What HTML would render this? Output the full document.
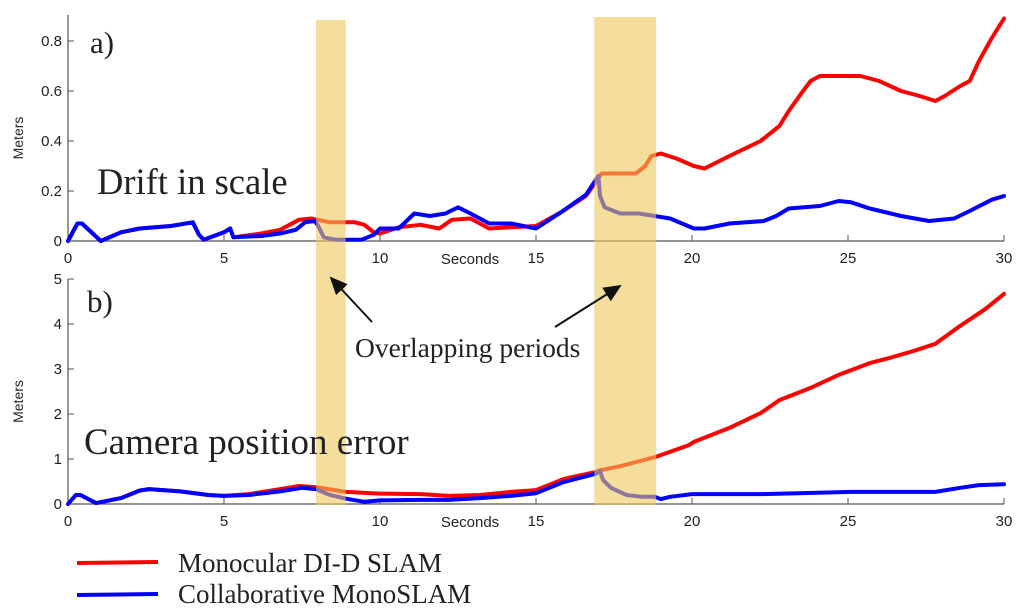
<!DOCTYPE html>
<html><head><meta charset="utf-8"><style>
html,body{margin:0;padding:0;background:#fff;width:1024px;height:613px;overflow:hidden}
svg{display:block}
.tick{font-family:"Liberation Sans",sans-serif;font-size:15px;fill:#222}
.serif{font-family:"Liberation Serif",serif;fill:#222}
</style></head><body>
<svg id="chart" width="1024" height="613" viewBox="0 0 1024 613" xmlns="http://www.w3.org/2000/svg"></svg>
<script>
// ---- data ----
const topRedT=[0,0.3,0.45,1.05,1.7,2.3,3.3,4.0,4.2,4.35,5.0,5.2,5.3,6.2,6.8,7.4,7.8,8.0,8.4,9.2,9.5,9.8,10,10.6,11.3,11.9,12.3,12.9,13.5,14.2,15,15.8,16.6,17.0,17.1,17.7,18.2,18.5,18.7,19.0,19.5,20.06,20.4,21.2,22.2,22.8,23.1,23.5,23.8,24.1,24.7,25.4,26.0,26.7,27.3,27.8,28.1,28.6,28.9,29.2,29.6,30];
const topRedV=[0,0.07,0.07,0,0.035,0.05,0.06,0.075,0.025,0.005,0.035,0.05,0.015,0.03,0.045,0.085,0.09,0.085,0.075,0.075,0.065,0.035,0.03,0.055,0.065,0.05,0.085,0.09,0.05,0.055,0.06,0.115,0.18,0.25,0.27,0.27,0.27,0.30,0.34,0.35,0.33,0.30,0.29,0.34,0.40,0.46,0.52,0.59,0.64,0.66,0.66,0.66,0.64,0.60,0.58,0.56,0.58,0.62,0.64,0.72,0.81,0.89];
const topBlueT=[0,0.3,0.45,1.05,1.7,2.3,3.3,4.0,4.2,4.35,5.0,5.2,5.3,6.2,6.8,7.3,7.6,7.9,8.0,8.2,8.6,9.4,9.8,10,10.6,11.1,11.6,12.1,12.5,12.9,13.5,14.2,15,15.8,16.6,17.0,17.05,17.2,17.7,18.3,18.8,19.3,20.06,20.4,21.2,22.3,22.7,23.1,24.1,24.7,25.1,25.7,26.7,27.6,28.4,28.9,29.6,30];
const topBlueV=[0,0.07,0.07,0,0.035,0.05,0.06,0.075,0.025,0.005,0.035,0.05,0.015,0.02,0.03,0.045,0.075,0.08,0.065,0.015,0.005,0.005,0.025,0.05,0.05,0.11,0.10,0.11,0.135,0.11,0.07,0.07,0.05,0.115,0.185,0.26,0.18,0.135,0.11,0.11,0.10,0.09,0.05,0.05,0.07,0.08,0.10,0.13,0.14,0.16,0.155,0.13,0.10,0.08,0.09,0.12,0.165,0.18];
const botRedT=[0,0.25,0.4,0.9,1.7,2.3,2.6,3.6,4.5,5,5.8,6.8,7.4,8,8.9,10,11.3,12.2,13.2,14.2,15,15.9,16.9,17.05,17.7,18.8,19.9,20.06,21.2,22.2,22.8,23.8,24.7,25.7,26.3,27.1,27.8,28.6,29.4,30];
const botRedV=[0,0.2,0.2,0.02,0.13,0.3,0.33,0.28,0.2,0.18,0.22,0.33,0.4,0.37,0.27,0.23,0.22,0.18,0.2,0.27,0.31,0.56,0.71,0.75,0.84,1.04,1.31,1.38,1.69,2.02,2.31,2.58,2.87,3.13,3.24,3.4,3.56,3.96,4.33,4.67];
const botBlueT=[0,0.25,0.4,0.9,1.7,2.3,2.6,3.6,4.5,5,5.8,6.8,7.5,7.95,8.4,8.9,9.5,10,11.3,12.2,13.2,14.2,15,15.9,16.9,17.05,17.15,17.4,17.9,18.4,18.8,19.0,19.3,20,22.2,23.4,25.1,26.7,27.8,28.6,29.2,30];
const botBlueV=[0,0.2,0.2,0.02,0.13,0.3,0.33,0.28,0.2,0.18,0.2,0.28,0.36,0.33,0.2,0.12,0.05,0.08,0.09,0.09,0.13,0.18,0.24,0.49,0.67,0.73,0.53,0.36,0.2,0.16,0.16,0.11,0.16,0.22,0.22,0.24,0.27,0.27,0.27,0.36,0.42,0.44];
const xTicks=[0,5,10,15,20,25,30];
const topYTicks=[0,0.2,0.4,0.6,0.8];
const topYLabels=["0","0.2","0.4","0.6","0.8"];
const botYTicks=[0,1,2,3,4,5];
const bands=[[7.95,8.9],[16.87,18.85]];

// ---- axes ----
const X0=68,X1=1004;
const sx=t=>X0+(X1-X0)*t/30;
const topY=v=>241-v*250;
const botY=v=>504-v*45;
const NS="http://www.w3.org/2000/svg";
const svg=document.getElementById('chart');
function el(tag,attrs,parent,text){const e=document.createElementNS(NS,tag);for(const k in attrs)e.setAttribute(k,attrs[k]);if(text!=null)e.textContent=text;(parent||svg).appendChild(e);return e;}

function axes(yf,ticks,labels,top,axisY,name){
  const g=el('g',{});
  
  
  el('line',{x1:X0,y1:top,x2:X0,y2:axisY,stroke:'#555','stroke-width':1.2},g);
  el('line',{x1:X0,y1:axisY,x2:X1,y2:axisY,stroke:'#555','stroke-width':1.2},g);
  ticks.forEach((v,i)=>{const y=yf(v);
    el('line',{x1:X0,y1:y,x2:X0+6,y2:y,stroke:'#555'},g);
    const t=el('text',{x:X0-6,y:y+5,'text-anchor':'end',class:'tick'},g,labels[i]);
    });
  xTicks.forEach(v=>{const x=sx(v);
    el('line',{x1:x,y1:axisY,x2:x,y2:axisY-6,stroke:'#555'},g);
    const t=el('text',{x:x,y:axisY+22,'text-anchor':'middle',class:'tick'},g,String(v));
    });
  const s=el('text',{x:470,y:axisY+23,'text-anchor':'middle',class:'tick'},g,'Seconds');
  
  const m=el('text',{transform:`translate(23,${(top+axisY)/2+10}) rotate(-90)`,'text-anchor':'middle',class:'tick',style:'font-size:14px'},g,'Meters');
  
}
axes(topY,topYTicks,topYLabels,15,241,'top');
axes(botY,botYTicks,botYTicks.map(String),279,504,'bottom');

function line(T,V,yf,color,name){
  const d=T.map((t,i)=>(i?'L':'M')+sx(t).toFixed(1)+','+yf(V[i]).toFixed(1)).join(' ');
  const p=el('path',{d:d,fill:'none',stroke:color,'stroke-width':4,'stroke-linejoin':'round','stroke-linecap':'round'});
  
  
}
line(topRedT,topRedV,topY,'#ff0000','top-red-line');
line(topBlueT,topBlueV,topY,'#0000ff','top-blue-line');
line(botRedT,botRedV,botY,'#ff0000','bottom-red-line');
line(botBlueT,botBlueV,botY,'#0000ff','bottom-blue-line');

bands.forEach((b,i)=>{
  const r=el('rect',{x:sx(b[0]),y:i?17:20,width:sx(b[1])-sx(b[0]),height:(i?505-17:505-20),fill:'#eec65a','fill-opacity':0.6});
  
  
});

// annotations
function txt(x,y,s,size,name){const t=el('text',{x:x,y:y,class:'serif',style:'font-size:'+size+'px'},svg,s);
  }
txt(90,53,'a)',31,'panel-a-label');
txt(97,194,'Drift in scale',36.5,'drift-title');
txt(87,312,'b)',31,'panel-b-label');
txt(84,454,'Camera position error',37,'camera-title');
txt(355,357,'Overlapping periods',27.5,'overlap-label');
el('defs',{}).innerHTML='<marker id="ah" markerWidth="10" markerHeight="10" refX="8" refY="5" orient="auto"><path d="M0,1 L9,5 L0,9 z" fill="#111"/></marker>';
const a1=el('line',{x1:372,y1:322,x2:331,y2:278,stroke:'#111','stroke-width':2,'marker-end':'url(#ah)'});

const a2=el('line',{x1:555,y1:327,x2:620,y2:286,stroke:'#111','stroke-width':2,'marker-end':'url(#ah)'});


// legend
const l1=el('line',{x1:77,y1:563,x2:158,y2:562,stroke:'#ff0000','stroke-width':4});

txt(178,572,'Monocular DI-D SLAM',27,'legend-red-label');
const l2=el('line',{x1:77,y1:595,x2:158,y2:594,stroke:'#0000ff','stroke-width':4});

txt(178,603,'Collaborative MonoSLAM',27,'legend-blue-label');
</script>
</body></html>
